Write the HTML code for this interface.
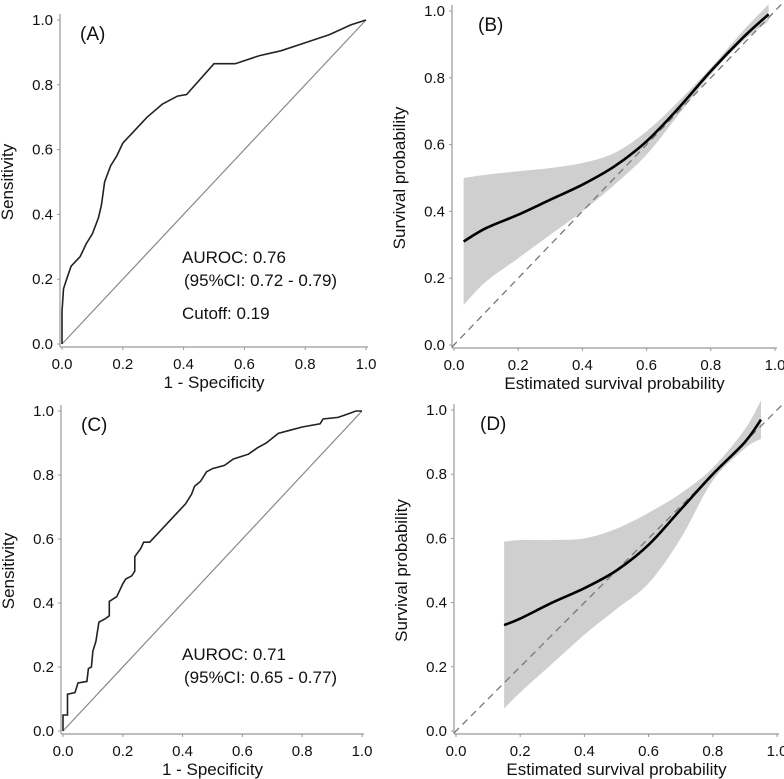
<!DOCTYPE html>
<html><head><meta charset="utf-8"><style>
html,body{margin:0;padding:0;background:#fff;}
svg{display:block;font-family:"Liberation Sans",Arial,sans-serif;}
</style></head><body>
<svg id="fig" width="784" height="779" viewBox="0 0 784 779"></svg>
<script>
const ticks=[0,0.2,0.4,0.6,0.8,1.0];
const tickLabels=["0.0","0.2","0.4","0.6","0.8","1.0"];
// ROC A
const rocA_fpr=[0,0,0.005,0.015,0.03,0.06,0.08,0.1,0.12,0.13,0.14,0.16,0.18,0.2,0.23,0.26,0.28,0.33,0.38,0.41,0.5,0.57,0.65,0.72,0.8,0.88,0.95,1];
const rocA_tpr=[0,0.1,0.17,0.2,0.24,0.27,0.31,0.34,0.39,0.43,0.5,0.55,0.58,0.62,0.65,0.68,0.7,0.74,0.765,0.77,0.865,0.865,0.89,0.905,0.93,0.955,0.985,1];
// ROC C
const rocC_fpr=[0,0,0.015,0.015,0.04,0.05,0.08,0.085,0.095,0.1,0.11,0.12,0.14,0.155,0.155,0.18,0.2,0.21,0.23,0.24,0.24,0.26,0.27,0.29,0.32,0.36,0.39,0.41,0.43,0.44,0.46,0.48,0.5,0.54,0.57,0.62,0.65,0.68,0.72,0.76,0.8,0.86,0.87,0.92,0.95,0.98,1];
const rocC_tpr=[0,0.05,0.05,0.115,0.12,0.15,0.155,0.195,0.2,0.25,0.28,0.34,0.35,0.36,0.405,0.42,0.46,0.475,0.485,0.5,0.545,0.57,0.59,0.59,0.62,0.66,0.69,0.71,0.74,0.765,0.78,0.81,0.82,0.83,0.85,0.865,0.885,0.9,0.93,0.94,0.95,0.96,0.975,0.98,0.99,1,1];
// Calibration B
const calB_x=[0.03,0.1,0.2,0.3,0.4,0.5,0.6,0.7,0.8,0.9,0.98];
const calB_y=[0.31,0.35,0.39,0.435,0.48,0.535,0.61,0.71,0.82,0.92,0.99];
const calB_hi=[0.5,0.51,0.52,0.53,0.545,0.575,0.64,0.73,0.83,0.94,1.02];
const calB_lo=[0.12,0.19,0.26,0.33,0.4,0.48,0.57,0.69,0.81,0.91,0.97];
// Calibration D
const calD_x=[0.15,0.2,0.3,0.4,0.5,0.6,0.7,0.8,0.9,0.95];
const calD_y=[0.33,0.35,0.40,0.445,0.5,0.58,0.69,0.8,0.9,0.97];
const calD_hi=[0.59,0.595,0.595,0.6,0.63,0.68,0.74,0.82,0.94,1.03];
const calD_lo=[0.07,0.12,0.21,0.3,0.38,0.46,0.6,0.78,0.88,0.91];

const svg=document.getElementById('fig');
const NS='http://www.w3.org/2000/svg';
function mk(tag,attrs,parent){const e=document.createElementNS(NS,tag);for(const k in attrs)e.setAttribute(k,attrs[k]);(parent||svg).appendChild(e);return e;}

function panel(id,x0,x1,y0,y1,xTitle,yTitle,label,labelX){
  const g=mk('g',{});
  
  
  const sx=v=>x0+(x1-x0)*v, sy=v=>y0+(y1-y0)*v;
  const ax=mk('line',{x1:x0-2,y1:y1-6,x2:x0-2,y2:y0+3,stroke:'#999','stroke-width':1.2},g);
  
  
  const ay=mk('line',{x1:x0-2,y1:y0+3,x2:x1+2,y2:y0+3,stroke:'#999','stroke-width':1.2},g);
  
  
  ticks.forEach((t,i)=>{
    mk('line',{x1:x0-5,y1:sy(t),x2:x0-2,y2:sy(t),stroke:'#999'},g);
    mk('line',{x1:sx(t),y1:y0+3,x2:sx(t),y2:y0+6,stroke:'#999'},g);
    const ty=mk('text',{x:x0-9,y:sy(t)+5,'text-anchor':'end','font-size':15,fill:'#111'},g);
    ty.textContent=tickLabels[i];
    
    
    const tx=mk('text',{x:sx(t),y:y0+25,'text-anchor':'middle','font-size':15,fill:'#111'},g);
    tx.textContent=tickLabels[i];
    
    
  });
  const xt=mk('text',{x:(x0+x1)/2,y:y0+44,'text-anchor':'middle','font-size':17,fill:'#111'},g);
  xt.textContent=xTitle;
  
  
  const yc=(y0+y1)/2;
  const yt=mk('text',{x:0,y:0,'text-anchor':'middle','font-size':17,fill:'#111',transform:`translate(${x0-49},${yc}) rotate(-90)`},g);
  yt.textContent=yTitle;
  
  
  const pl=mk('text',{x:labelX,y:y1+20,'font-size':19,fill:'#111'},g);
  pl.textContent=label;
  
  
  return {g,sx,sy};
}
function pts(xs,ys,sx,sy){return xs.map((v,i)=>sx(v).toFixed(1)+','+sy(ys[i]).toFixed(1)).join(' ');}
function smooth(xs,ys,sx,sy,start){
  const P=xs.map((v,i)=>[sx(v),sy(ys[i])]);
  let d=start+P[0][0].toFixed(1)+','+P[0][1].toFixed(1);
  for(let i=0;i<P.length-1;i++){
    const p0=P[Math.max(0,i-1)],p1=P[i],p2=P[i+1],p3=P[Math.min(P.length-1,i+2)];
    const c1=[p1[0]+(p2[0]-p0[0])/6,p1[1]+(p2[1]-p0[1])/6];
    const c2=[p2[0]-(p3[0]-p1[0])/6,p2[1]-(p3[1]-p1[1])/6];
    d+=` C${c1[0].toFixed(1)},${c1[1].toFixed(1)} ${c2[0].toFixed(1)},${c2[1].toFixed(1)} ${p2[0].toFixed(1)},${p2[1].toFixed(1)}`;
  }
  return d;
}

function roc(id,x0,x1,y0,y1,fpr,tpr,label,texts){
  const p=panel(id,x0,x1,y0,y1,'1 - Specificity','Sensitivity',label,x0+18);
  const d=mk('line',{x1:p.sx(0),y1:p.sy(0),x2:p.sx(1),y2:p.sy(1),stroke:'#888','stroke-width':1.2},p.g);
  
  
  const c=mk('polyline',{points:pts(fpr,tpr,p.sx,p.sy),fill:'none',stroke:'#222','stroke-width':1.6},p.g);
  
  
  texts.forEach(t=>{
    const e=mk('text',{x:t[0],y:t[1],'font-size':17,fill:'#111'},p.g);
    e.textContent=t[2];
    
    
  });
}
function cal(id,x0,x1,y0,y1,xs,ys,hi,lo,label){
  const p=panel(id,x0,x1,y0,y1,'Estimated survival probability','Survival probability',label,x0+24);
  const rx=xs.slice().reverse(), rl=lo.slice().reverse();
  const band=smooth(xs,hi,p.sx,p.sy,'M')+' '+smooth(rx,rl,p.sx,p.sy,'L')+' Z';
  const b=mk('path',{d:band,fill:'#cfcfcf',stroke:'none'},p.g);
  
  
  const d=mk('line',{x1:p.sx(0)-2,y1:p.sy(0)+2,x2:p.sx(1.03),y2:p.sy(1.03),stroke:'#777','stroke-width':1.3,'stroke-dasharray':'7,5'},p.g);
  
  
  const c=mk('path',{d:smooth(xs,ys,p.sx,p.sy,'M'),fill:'none',stroke:'#000','stroke-width':2.6,'stroke-linejoin':'round'},p.g);
  
  
}
roc('a',62,366,344,20,rocA_fpr,rocA_tpr,'(A)',[[182,263,'AUROC: 0.76','auroc-label'],[184,286,'(95%CI: 0.72 - 0.79)','ci-label'],[182,319,'Cutoff: 0.19','cutoff-label']]);
cal('b',454,775,345,11,calB_x,calB_y,calB_hi,calB_lo,'(B)');
roc('c',63,362,731,411,rocC_fpr,rocC_tpr,'(C)',[[182,660,'AUROC: 0.71','auroc-label'],[184,683,'(95%CI: 0.65 - 0.77)','ci-label']]);
cal('d',456,777,731,410,calD_x,calD_y,calD_hi,calD_lo,'(D)');
</script>
</body></html>
